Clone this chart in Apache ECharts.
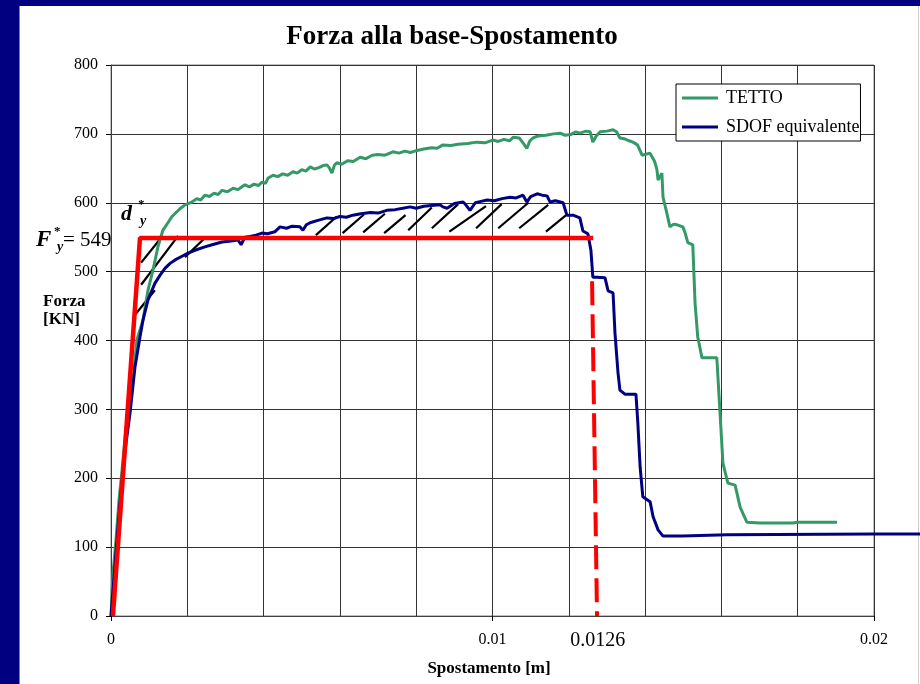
<!DOCTYPE html>
<html>
<head>
<meta charset="utf-8">
<script src="https://cdn.jsdelivr.net/npm/echarts@6/dist/echarts.min.js"></script>
<style>
  html, body { margin: 0; padding: 0; background: #000080; }
  #chart { width: 920px; height: 684px; }
</style>
</head>
<body>
<div id="chart"></div>
<script>
// Pushover curve of the roof (displacement [m], base shear [kN])
const tetto = [
  [0, 0], [0.00005, 60], [0.00013, 110], [0.00021, 168], [0.00029, 212], [0.00039, 270],
  [0.00050, 314], [0.00060, 357], [0.00068, 401], [0.00084, 430], [0.00097, 473],
  [0.00110, 502], [0.00123, 536], [0.00136, 560], [0.00160, 580], [0.00180, 591],
  [0.00194, 597], [0.00212, 601], [0.00225, 606], [0.00235, 604], [0.00246, 611],
  [0.00258, 609], [0.00270, 614], [0.00281, 612], [0.00291, 618], [0.00305, 616],
  [0.00320, 621], [0.00333, 619], [0.00345, 624], [0.00351, 626], [0.00363, 623],
  [0.00375, 627], [0.00386, 625], [0.00396, 630], [0.00405, 628], [0.00412, 636],
  [0.00425, 640], [0.00437, 638], [0.00450, 642], [0.00463, 640], [0.00477, 645],
  [0.00488, 643], [0.00500, 648], [0.00511, 646], [0.00522, 652], [0.00533, 649],
  [0.00545, 651], [0.00556, 654], [0.00566, 655], [0.00572, 651], [0.00579, 643],
  [0.00586, 655], [0.00592, 658], [0.00605, 656], [0.00620, 661], [0.00635, 660],
  [0.00653, 666], [0.00668, 664], [0.00685, 669], [0.00700, 670], [0.00718, 669],
  [0.00739, 674], [0.00755, 672], [0.00770, 675], [0.00785, 673], [0.00802, 676],
  [0.00820, 678], [0.00840, 680], [0.00855, 679], [0.00870, 684], [0.00890, 683],
  [0.00910, 685], [0.00935, 686], [0.00959, 688], [0.00980, 687], [0.01001, 691],
  [0.01015, 689], [0.01030, 692], [0.01045, 690], [0.01054, 695], [0.01070, 694],
  [0.01080, 687], [0.01090, 679], [0.01098, 690], [0.01106, 694], [0.01120, 697],
  [0.01140, 698], [0.01160, 700], [0.01177, 701], [0.01190, 698], [0.01205, 699],
  [0.01218, 703], [0.01229, 701], [0.01245, 704], [0.01256, 703], [0.01263, 688],
  [0.01272, 697], [0.01282, 703], [0.01300, 704], [0.01316, 706], [0.01325, 703],
  [0.01334, 694], [0.01345, 693], [0.01358, 690], [0.01368, 688], [0.01380, 684],
  [0.01392, 669], [0.01413, 672], [0.01425, 660], [0.01431, 648], [0.01434, 633],
  [0.01444, 643], [0.01447, 608], [0.01457, 585], [0.01465, 565], [0.01475, 569],
  [0.01484, 568], [0.01499, 565], [0.01505, 556], [0.01512, 542], [0.01525, 539],
  [0.01531, 454], [0.01538, 405], [0.01549, 375], [0.01588, 375], [0.01596, 299],
  [0.01604, 222], [0.01617, 193], [0.01636, 190], [0.01649, 158], [0.01667, 136],
  [0.01701, 135], [0.01788, 135], [0.01798, 136], [0.01903, 136]
];

// Equivalent single-degree-of-freedom system
const sdof = [
  [0, 0], [0.00010, 71], [0.00024, 168], [0.00037, 241], [0.00050, 295], [0.00063, 362],
  [0.00076, 405], [0.00084, 430], [0.00097, 459], [0.00115, 483], [0.00130, 496],
  [0.00142, 505], [0.00155, 512], [0.00168, 517], [0.00185, 522], [0.00202, 527],
  [0.00220, 531], [0.00246, 536], [0.00265, 539], [0.00291, 543], [0.00310, 544],
  [0.00333, 546], [0.00341, 539], [0.00351, 550], [0.00365, 551], [0.00380, 553],
  [0.00396, 556], [0.00410, 555], [0.00430, 558], [0.00443, 565], [0.00460, 563],
  [0.00475, 566], [0.00495, 565], [0.00503, 560], [0.00512, 568], [0.00522, 571],
  [0.00540, 574], [0.00566, 578], [0.00583, 577], [0.00600, 580], [0.00617, 579],
  [0.00634, 582], [0.00655, 584], [0.00680, 586], [0.00700, 585], [0.00723, 589],
  [0.00745, 590], [0.00765, 592], [0.00784, 594], [0.00800, 592], [0.00820, 595],
  [0.00840, 596], [0.00862, 597], [0.00870, 594], [0.00881, 592], [0.00900, 599],
  [0.00923, 601], [0.00930, 597], [0.00941, 589], [0.00955, 600], [0.00970, 602],
  [0.00986, 604], [0.01005, 603], [0.01025, 606], [0.01046, 608], [0.01062, 607],
  [0.01080, 611], [0.01090, 601], [0.01100, 609], [0.01117, 613], [0.01130, 611],
  [0.01143, 610], [0.01151, 601], [0.01165, 603], [0.01185, 600], [0.01195, 582],
  [0.01211, 582], [0.01229, 578], [0.01237, 559], [0.01250, 555], [0.01258, 531],
  [0.01263, 492], [0.01274, 492], [0.01295, 491], [0.01303, 472], [0.01316, 469],
  [0.01321, 411], [0.01329, 353], [0.01334, 328], [0.01347, 322], [0.01376, 322],
  [0.01381, 280], [0.01387, 216], [0.01394, 173], [0.01413, 166], [0.01421, 144],
  [0.01434, 125], [0.01447, 116], [0.01497, 116], [0.01499, 118], [0.01615, 118],
  [0.01617, 119], [0.02000, 119]
];
// The last step of the SDOF curve runs past the end of the axis
const sdofTail = [[0.02000, 119], [0.02121, 119]];

// Idealised elasto-plastic bilinear curve (F*y = 549 kN, du = 0.0126 m)
const Fy = 549;
const du = 0.0126;
const bilinear = [[0.00005, 0], [0.00076, Fy], [0.01264, Fy]];
const ultimateDrop = [[0.01261, 486], [0.01274, 0]];

// Hatching of the equal-energy areas
const hatch = [
  [[0.00079, 513], [0.00134, 551]],
  [[0.00079, 481], [0.00176, 552]],
  [[0.00061, 436], [0.00115, 473]],
  [[0.00194, 521], [0.00248, 550]],
  [[0.00537, 553], [0.00592, 580]],
  [[0.00607, 556], [0.00663, 583]],
  [[0.00661, 557], [0.00718, 584]],
  [[0.00716, 556], [0.00772, 582]],
  [[0.00779, 560], [0.00841, 593]],
  [[0.00841, 563], [0.00910, 598]],
  [[0.00887, 558], [0.00983, 595]],
  [[0.00957, 563], [0.01024, 598]],
  [[0.01015, 563], [0.01094, 600]],
  [[0.01070, 563], [0.01146, 597]],
  [[0.01140, 558], [0.01193, 582]]
];

const xTickLabels = { 0: '0', 0.01: '0.01', 0.02: '0.02' };

const serif = '"Liberation Serif", "DejaVu Serif", serif';
const gridColor = '#333333';
const sdofColor = '#000080';

const chart = echarts.init(document.getElementById('chart'), null, { renderer: 'canvas' });

chart.setOption({
  backgroundColor: '#ffffff',
  animation: false,
  grid: {
    left: 111, right: 46, top: 65, bottom: 68,
    show: true, borderColor: '#808080', borderWidth: 1, backgroundColor: 'transparent'
  },
  xAxis: {
    type: 'value', min: 0, max: 0.02, interval: 0.01,
    axisLine: { show: true, onZero: false, lineStyle: { color: '#404040', width: 1 } },
    axisTick: { show: true, length: 5, lineStyle: { color: '#000' } },
    axisLabel: {
      fontFamily: serif, fontSize: 16, color: '#000', margin: 16,
      formatter: function (v) {
        const k = Math.round(v * 1000) / 1000;
        return xTickLabels[k] !== undefined ? xTickLabels[k] : '';
      }
    },
    splitLine: { show: true, lineStyle: { color: gridColor, width: 1 } },
    minorTick: { show: false, splitNumber: 5 },
    minorSplitLine: { show: true, lineStyle: { color: gridColor, width: 1 } }
  },
  yAxis: {
    type: 'value', min: 0, max: 800, interval: 100,
    axisLine: { show: true, lineStyle: { color: '#404040', width: 1 } },
    axisTick: { show: true, length: 5, lineStyle: { color: '#000' } },
    axisLabel: { fontFamily: serif, fontSize: 16, color: '#000', margin: 13 },
    splitLine: { show: true, lineStyle: { color: gridColor, width: 1 } }
  },
  legend: {
    data: ['TETTO', 'SDOF equivalente'],
    orient: 'vertical', left: 676, top: 84,
    padding: [5, 1, 5, 6], itemGap: 11,
    itemWidth: 36, itemHeight: 3, icon: 'rect',
    borderColor: '#000', borderWidth: 1, backgroundColor: '#fff',
    textStyle: { fontFamily: serif, fontSize: 18, color: '#000', padding: [0, 0, 0, 3] }
  },
  series: [
    {
      name: 'hatch', type: 'lines', coordinateSystem: 'cartesian2d',
      data: hatch.map(function (s) { return { coords: s }; }),
      lineStyle: { color: '#000', width: 2.2, opacity: 1 }, z: 3, silent: true
    },
    {
      name: 'TETTO', type: 'line', data: tetto, showSymbol: false,
      lineStyle: { color: '#339966', width: 3 }, itemStyle: { color: '#339966' }, z: 4
    },
    {
      name: 'SDOF equivalente', type: 'line', data: sdof, showSymbol: false,
      lineStyle: { color: sdofColor, width: 3 }, itemStyle: { color: sdofColor }, z: 5
    },
    {
      name: 'bilineare', type: 'line', data: bilinear, showSymbol: false,
      lineStyle: { color: '#ff0000', width: 4.5 }, z: 6
    },
    {
      name: 'du', type: 'line', data: ultimateDrop, showSymbol: false,
      lineStyle: { color: '#ff0000', width: 4, type: [24, 9] }, z: 6
    }
  ]
});

// Frame, titles and annotations
const toPx = function (p) { return chart.convertToPixel({ gridIndex: 0 }, p); };
const pDu = toPx([du, 0]);
const pCorner = toPx([bilinear[1][0], Fy]);
const tailPts = sdofTail.map(toPx);

function label(text, x, y, font, align) {
  return {
    type: 'text', z: 100, silent: true,
    style: { text: text, x: x, y: y, font: font, fill: '#000', align: align || 'left', verticalAlign: 'middle' }
  };
}

chart.setOption({
  graphic: [
    { type: 'rect', z: 100, silent: true, shape: { x: 0, y: 0, width: 920, height: 6 }, style: { fill: '#000080' } },
    { type: 'rect', z: 100, silent: true, shape: { x: 0, y: 0, width: 19, height: 684 }, style: { fill: '#000080' } },
    { type: 'line', z: 100, silent: true, shape: { x1: 19.5, y1: 6, x2: 19.5, y2: 684 }, style: { stroke: '#808080', lineWidth: 1 } },
    { type: 'line', z: 1, silent: true, shape: { x1: 918.5, y1: 6, x2: 918.5, y2: 684 }, style: { stroke: '#d0d0d0', lineWidth: 1 } },
    {
      type: 'polyline', z: 50, silent: true,
      shape: { points: tailPts },
      style: { stroke: sdofColor, lineWidth: 3, fill: null }
    },
    label('Forza alla base-Spostamento', 452, 37, 'bold 27px ' + serif, 'center'),
    label('Forza', 43, 302, 'bold 17px ' + serif),
    label('[KN]', 43, 320, 'bold 17px ' + serif),
    label('Spostamento [m]', 489, 669, 'bold 17px ' + serif, 'center'),
    label('0.0126', pDu[0] + 6, 641, '20px ' + serif, 'center'),
    // F*y = 549
    label('F', pCorner[0] - 104, pCorner[1] + 2, 'italic bold 23px ' + serif),
    label('*', pCorner[0] - 86, pCorner[1] - 6, 'bold 13px ' + serif),
    label('y', pCorner[0] - 83, pCorner[1] + 10, 'italic bold 14px ' + serif),
    label('= ' + Fy, pCorner[0] - 77, pCorner[1] + 3, '21px ' + serif),
    // d*y
    label('d', pCorner[0] - 19, pCorner[1] - 24, 'italic bold 22px ' + serif),
    label('*', pCorner[0] - 2, pCorner[1] - 33, 'bold 13px ' + serif),
    label('y', pCorner[0], pCorner[1] - 16, 'italic bold 14px ' + serif)
  ]
});
</script>
</body>
</html>
